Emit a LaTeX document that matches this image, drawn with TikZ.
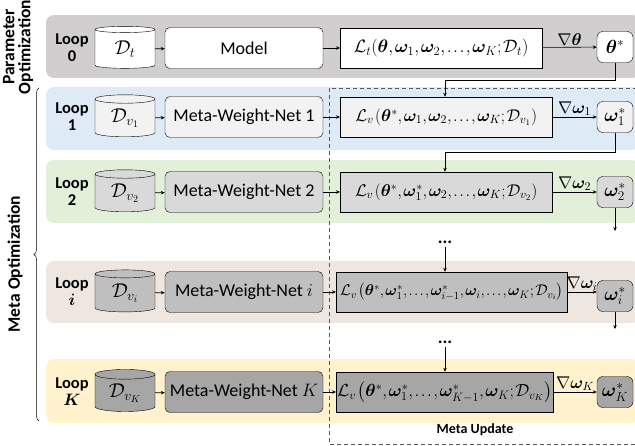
\RequirePackage{fix-cm}
\documentclass[tikz,border=0pt]{standalone}
\usepackage{amsmath,bm}
\usepackage{fontspec}
\setmainfont{Carlito}
\usetikzlibrary{shapes.geometric,decorations.pathreplacing,arrows.meta}
\definecolor{bandgray}{HTML}{D0CECE}
\definecolor{bandblue}{HTML}{DEEBF7}
\definecolor{bandgreen}{HTML}{E2F0D9}
\definecolor{bandrose}{HTML}{EEE6E0}
\definecolor{bandyellow}{HTML}{FFF2CC}
\definecolor{fillA}{HTML}{F2F2F2}
\definecolor{fillB}{HTML}{D9D9D9}
\definecolor{fillC}{HTML}{BFBFBF}
\definecolor{fillD}{HTML}{A6A6A6}
\newcommand{\tightmath}{\thinmuskip=1.5mu\relax}
\begin{document}
\begin{tikzpicture}[x=1pt,y=-1pt,
    band/.style={rounded corners=8pt},
    db/.style={cylinder, shape border rotate=90, aspect=0.3, draw,
      minimum width=60pt, minimum height=42pt, inner sep=0pt,
      cylinder uses custom fill, font=\fontsize{20}{22}\selectfont},
    net/.style={draw, rounded corners=5pt, minimum width=158pt,
      minimum height=41pt, font=\fontsize{18}{20}\selectfont},
    loss/.style={draw, anchor=west, minimum height=40pt, inner sep=1pt,
      font=\fontsize{#1}{20}\selectfont},
    star/.style={draw, rounded corners=6pt, minimum width=36pt,
      minimum height=31pt, inner sep=1pt, font=\fontsize{19}{20}\selectfont},
    looplbl/.style={align=center, font=\bfseries\fontsize{16.5}{17}\selectfont},
    side/.style={rotate=90, align=center, font=\bfseries\fontsize{17.5}{16}\selectfont},
    arr/.style={-{Stealth[length=4pt,width=3.5pt]}, line width=0.6pt},
    grad/.style={above, inner sep=1pt, font=\fontsize{17}{18}\selectfont},
  ]
  \useasboundingbox (0,0) rectangle (635,445);
  \clip (0,0) rectangle (635,445);

  % bands
  \fill[band, bandgray] (46,15) rectangle (640,78);
  \fill[band, bandblue] (46,87) rectangle (640,150);
  \fill[band, bandgreen] (46,160) rectangle (640,223);
  \fill[band, bandrose] (46,261) rectangle (640,323);
  \fill[band, bandyellow] (46,359) rectangle (640,423);

  % meta update
  \draw[gray!70!black, dash pattern=on 4pt off 3pt, line width=0.6pt]
    (329,88) rectangle (645,444);
  \node[font=\bfseries\fontsize{14}{16}\selectfont] (upd) at (475,430) {Meta Update};

  % side labels
  \node[side] (popt) at (18,47) {Parameter\\Optimization};
  \node[side] (mopt) at (15,264) {Meta Optimization};
  \draw[decorate, decoration={brace, amplitude=5pt}, line width=0.5pt]
    (39,421) -- (39,88);

  % loop 0
  \node[looplbl] (lp0) at (72,48) {Loop\\$\mathbf{0}$};
  \node[db, cylinder body fill=white, cylinder end fill=white] (d0) at (125,49) {$\mathcal{D}_t$};
  \node[net, fill=white] (m0) at (244,48) {Model};
  \node[loss=18, fill=white, minimum width=202pt] (l0) at (340,48)
    {$\tightmath\mathcal{L}_t(\bm{\theta},\bm{\omega}_1,\bm{\omega}_2,\ldots,\bm{\omega}_K;\mathcal{D}_t)$};
  \node[star, fill=white] (s0) at (615,47) {$\bm{\theta}^{*}$};

  % loop 1
  \node[looplbl] (lp1) at (72,117) {Loop\\$\mathbf{1}$};
  \node[db, cylinder body fill=fillA, cylinder end fill=fillA] (d1) at (125,118) {$\mathcal{D}_{v_1}$};
  \node[net, fill=fillA] (m1) at (244,117) {Meta-Weight-Net 1};
  \node[loss=17, fill=fillA, minimum width=212pt] (l1) at (340,117)
    {$\tightmath\mathcal{L}_v\left(\bm{\theta}^{*},\bm{\omega}_1,\bm{\omega}_2,\ldots,\bm{\omega}_K;\mathcal{D}_{v_1}\right)$};
  \node[star, fill=fillA] (s1) at (615,117) {$\bm{\omega}_1^{*}$};

  % loop 2
  \node[looplbl] (lp2) at (72,192) {Loop\\$\mathbf{2}$};
  \node[db, cylinder body fill=fillB, cylinder end fill=fillB] (d2) at (125,193) {$\mathcal{D}_{v_2}$};
  \node[net, fill=fillB] (m2) at (244,192) {Meta-Weight-Net 2};
  \node[loss=17, fill=fillB, minimum width=212pt] (l2) at (340,192)
    {$\tightmath\mathcal{L}_v\left(\bm{\theta}^{*},\bm{\omega}_1^{*},\bm{\omega}_2,\ldots,\bm{\omega}_K;\mathcal{D}_{v_2}\right)$};
  \node[star, fill=fillB] (s2) at (615,192) {$\bm{\omega}_2^{*}$};

  % loop i
  \node[looplbl] (lpi) at (72,292) {Loop\\$\bm{i}$};
  \node[db, cylinder body fill=fillC, cylinder end fill=fillC] (di) at (125,293) {$\mathcal{D}_{v_i}$};
  \node[net, fill=fillC] (mi) at (244,292) {Meta-Weight-Net $i$};
  \node[loss=15.5, fill=fillC, minimum width=231pt] (li) at (336,292)
    {$\tightmath\mathcal{L}_v\left(\bm{\theta}^{*},\bm{\omega}_1^{*},\ldots,\bm{\omega}_{i-1}^{*},\bm{\omega}_i,\ldots,\bm{\omega}_K;\mathcal{D}_{v_i}\right)$};
  \node[star, fill=fillC] (si) at (615,296) {$\bm{\omega}_i^{*}$};

  % loop K
  \node[looplbl] (lpK) at (72,392) {Loop\\$\bm{K}$};
  \node[db, cylinder body fill=fillD, cylinder end fill=fillD] (dK) at (125,393) {$\mathcal{D}_{v_K}$};
  \node[net, fill=fillD] (mK) at (244,392) {Meta-Weight-Net $K$};
  \node[loss=17.5, fill=fillD, minimum width=216pt] (lK) at (336,392)
    {$\tightmath\mathcal{L}_v\left(\bm{\theta}^{*},\bm{\omega}_1^{*},\ldots,\bm{\omega}_{K-1}^{*},\bm{\omega}_K;\mathcal{D}_{v_K}\right)$};
  \node[star, fill=fillD] (sK) at (615,392) {$\bm{\omega}_K^{*}$};

  % dots
  \node[font=\bfseries\fontsize{18}{18}\selectfont] (dt1) at (445,242) {...};
  \node[font=\bfseries\fontsize{18}{18}\selectfont] (dt2) at (445,342) {...};

  % connectors
  \draw[arr] (d0) -- (m0);
  \draw[arr] (d1) -- (m1);
  \draw[arr] (d2) -- (m2);
  \draw[arr] (di) -- (mi);
  \draw[arr] (dK) -- (mK);
  \draw[arr] (m0) -- (l0);
  \draw[arr] (m1) -- (l1);
  \draw[arr] (m2) -- (l2);
  \draw[arr] (mi) -- (li);
  \draw[arr] (mK) -- (lK);
  \draw[arr] (l0) -- node[grad] {$\nabla\bm{\theta}$} (s0);
  \draw[arr] (l1.east) -- node[grad] {$\nabla\bm{\omega}_1$} (l1.east -| s1.west);
  \draw[arr] (l2.east) -- node[grad] {$\nabla\bm{\omega}_2$} (l2.east -| s2.west);
  \draw[arr] (li.east) -- node[grad] {$\nabla\bm{\omega}_i$} (li.east -| si.west);
  \draw[arr] (lK.east) -- node[grad] {$\nabla\bm{\omega}_K$} (lK.east -| sK.west);
  \coordinate (j0) at (445,80);
  \coordinate (j1) at (445,152);
  \draw[arr] (s0.south) |- (j0) -- (j0 |- l1.north);
  \draw[arr] (s1.south) |- (j1) -- (j1 |- l2.north);
  \coordinate (e2) at (615,231);
  \coordinate (ei) at (615,329);
  \draw[arr] (s2.south) -- (e2);
  \draw[arr] (si.south) -- (ei);
  \draw[arr] (dt1.south) -- (dt1.south |- li.north);
  \draw[arr] (dt2.south) -- (dt2.south |- lK.north);
\end{tikzpicture}
\end{document}
